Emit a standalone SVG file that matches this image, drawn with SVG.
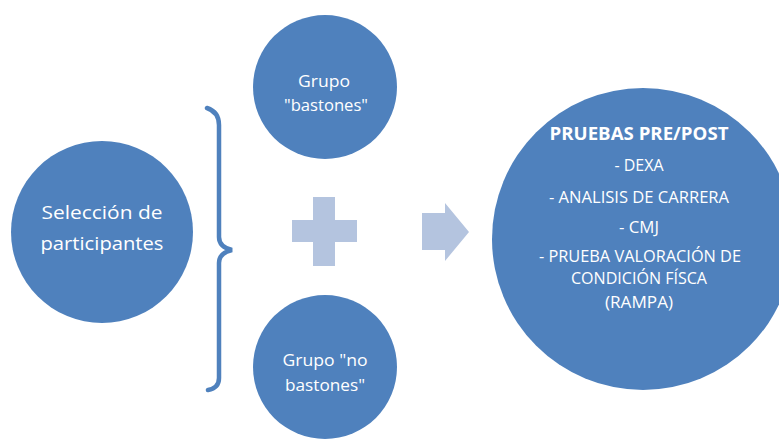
<svg xmlns="http://www.w3.org/2000/svg" width="779" height="441" viewBox="0 0 779 441">
<style>
.node{fill:#4F81BD}
.t{font-family:"Open Sans","Noto Sans","Liberation Sans",sans-serif;fill:#FFFFFF;text-anchor:middle}
.light{fill:#B4C4DF}
.brace{fill:none;stroke:#4F81BD;stroke-width:4.5;stroke-linecap:round}
</style>
<rect width="779" height="441" fill="#FFFFFF"/>
<g id="seleccion">
<circle class="node" cx="102" cy="232" r="91"/>
<text class="t" x="102" y="218.5" font-size="19" textLength="121" lengthAdjust="spacingAndGlyphs">Selección de</text>
<text class="t" x="102" y="249.5" font-size="19" textLength="123" lengthAdjust="spacingAndGlyphs">participantes</text>
</g>
<g id="grupo-bastones">
<circle class="node" cx="325" cy="87" r="72"/>
<text class="t" x="324" y="86.5" font-size="16" textLength="52" lengthAdjust="spacingAndGlyphs">Grupo</text>
<text class="t" x="326" y="110.5" font-size="16" textLength="84" lengthAdjust="spacingAndGlyphs">"bastones"</text>
</g>
<g id="grupo-no-bastones">
<circle class="node" cx="325" cy="367" r="72"/>
<text class="t" x="325" y="365.5" font-size="16" textLength="85" lengthAdjust="spacingAndGlyphs">Grupo "no</text>
<text class="t" x="325" y="390.5" font-size="16" textLength="80" lengthAdjust="spacingAndGlyphs">bastones"</text>
</g>
<g id="pruebas">
<circle class="node" cx="643" cy="239" r="151"/>
<text class="t" x="639" y="139.5" font-size="17" font-weight="bold" textLength="179" lengthAdjust="spacingAndGlyphs">PRUEBAS PRE/POST</text>
<text class="t" x="639" y="171" font-size="16" textLength="49" lengthAdjust="spacingAndGlyphs">- DEXA</text>
<text class="t" x="639" y="203" font-size="16" textLength="180" lengthAdjust="spacingAndGlyphs">- ANALISIS DE CARRERA</text>
<text class="t" x="639" y="233" font-size="16" textLength="40" lengthAdjust="spacingAndGlyphs">- CMJ</text>
<text class="t" x="640" y="262" font-size="16" textLength="202" lengthAdjust="spacingAndGlyphs">- PRUEBA VALORACIÓN DE</text>
<text class="t" x="639" y="284" font-size="16" textLength="136" lengthAdjust="spacingAndGlyphs">CONDICIÓN FÍSCA</text>
<text class="t" x="639" y="308" font-size="16" textLength="68" lengthAdjust="spacingAndGlyphs">(RAMPA)</text>
</g>
<g id="connectors">
<path class="brace" d="M207,108 Q219,112 219,125 L219,237 Q219,247 232,250 Q219,253 219,263 L219,378 Q219,388 208,390"/>
<path class="light" d="M313,197 H335 V220 H357 V242 H335 V266 H313 V242 H292 V220 H313 Z"/>
<path class="light" d="M422,213 H445 V203 L469,232 L445,261 V250 H422 Z"/>
</g>
</svg>
